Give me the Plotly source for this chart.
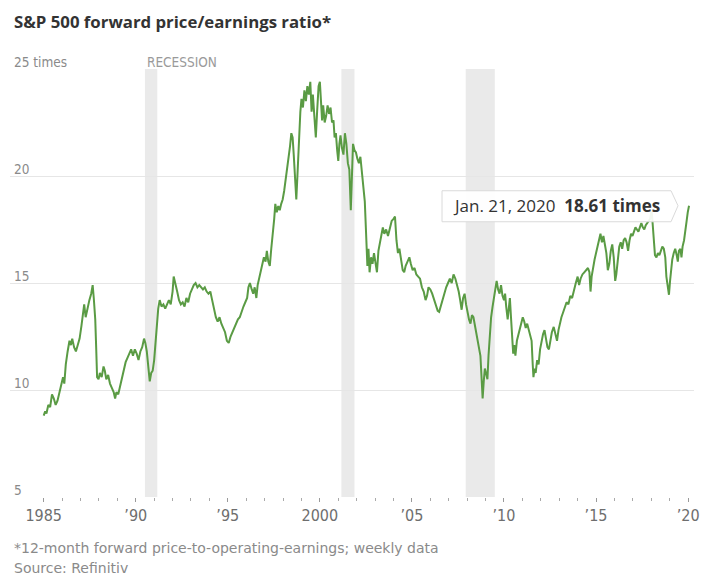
import plotly.graph_objects as go

# Weekly-ish readings of the S&P 500 forward P/E, as (decimal year, ratio)
years = [
    1985.0, 1985.08, 1985.15, 1985.25, 1985.35, 1985.45, 1985.55, 1985.65, 1985.75, 1985.85, 1985.95,
    1986.05, 1986.12, 1986.2, 1986.3, 1986.4, 1986.48, 1986.55, 1986.65, 1986.75, 1986.85, 1986.95,
    1987.05, 1987.12, 1987.2, 1987.28, 1987.38, 1987.48, 1987.58, 1987.66, 1987.72, 1987.8, 1987.85, 1987.9, 1987.98,
    1988.05, 1988.15, 1988.25, 1988.32, 1988.4, 1988.5, 1988.6, 1988.7, 1988.8, 1988.88, 1988.95,
    1989.05, 1989.15, 1989.25, 1989.35, 1989.45, 1989.55, 1989.65, 1989.75, 1989.85, 1989.95,
    1990.05, 1990.15, 1990.25, 1990.35, 1990.45, 1990.52, 1990.6, 1990.68, 1990.76, 1990.84, 1990.92,
    1991.0, 1991.08, 1991.15, 1991.22, 1991.3, 1991.4, 1991.5, 1991.6, 1991.7, 1991.8, 1991.9,
    1992.0, 1992.06, 1992.15, 1992.25, 1992.35, 1992.45, 1992.55, 1992.65, 1992.75, 1992.85, 1992.95,
    1993.05, 1993.15, 1993.25, 1993.35, 1993.45, 1993.55, 1993.65, 1993.75, 1993.85, 1993.95,
    1994.05, 1994.15, 1994.25, 1994.35, 1994.45, 1994.55, 1994.65, 1994.75, 1994.85, 1994.95,
    1995.05, 1995.15, 1995.25, 1995.35, 1995.45, 1995.55, 1995.65, 1995.75, 1995.85, 1995.95,
    1996.05, 1996.12, 1996.2, 1996.3, 1996.38, 1996.46, 1996.55, 1996.62, 1996.72, 1996.8, 1996.88, 1996.96,
    1997.05, 1997.12, 1997.2, 1997.28, 1997.36, 1997.44, 1997.52, 1997.58, 1997.66, 1997.74, 1997.82, 1997.9, 1997.98,
    1998.06, 1998.14, 1998.22, 1998.3, 1998.38, 1998.45, 1998.52, 1998.58, 1998.66, 1998.72, 1998.78, 1998.86, 1998.94,
    1999.0, 1999.08, 1999.16, 1999.24, 1999.32, 1999.4, 1999.48, 1999.55, 1999.62, 1999.7, 1999.78, 1999.85, 1999.93,
    2000.0, 2000.06, 2000.12, 2000.18, 2000.26, 2000.34, 2000.42, 2000.5, 2000.58, 2000.66, 2000.74, 2000.8, 2000.87, 2000.94,
    2001.0, 2001.06, 2001.12, 2001.2, 2001.28, 2001.36, 2001.44, 2001.52, 2001.6, 2001.68, 2001.74, 2001.8, 2001.88, 2001.96,
    2002.04, 2002.12, 2002.2, 2002.28, 2002.36, 2002.44, 2002.52, 2002.58, 2002.64, 2002.7, 2002.78, 2002.86, 2002.94,
    2003.02, 2003.1, 2003.18, 2003.26, 2003.34, 2003.42, 2003.5, 2003.6, 2003.7, 2003.8, 2003.9,
    2004.0, 2004.08, 2004.16, 2004.24, 2004.32, 2004.42, 2004.5, 2004.58, 2004.66, 2004.76, 2004.86, 2004.94,
    2005.04, 2005.14, 2005.24, 2005.34, 2005.44, 2005.54, 2005.64, 2005.74, 2005.82, 2005.9,
    2006.0, 2006.1, 2006.2, 2006.3, 2006.4, 2006.48, 2006.56, 2006.66, 2006.76, 2006.86, 2006.96,
    2007.06, 2007.16, 2007.26, 2007.36, 2007.46, 2007.54, 2007.62, 2007.7, 2007.78, 2007.86, 2007.94,
    2008.02, 2008.1, 2008.18, 2008.26, 2008.34, 2008.42, 2008.5, 2008.58, 2008.66, 2008.72, 2008.78, 2008.84, 2008.9, 2008.96,
    2009.02, 2009.1, 2009.16, 2009.22, 2009.3, 2009.38, 2009.46, 2009.54, 2009.6, 2009.68, 2009.76, 2009.84, 2009.92,
    2010.0, 2010.06, 2010.12, 2010.2, 2010.26, 2010.32, 2010.38, 2010.44, 2010.5, 2010.56, 2010.62, 2010.7, 2010.78, 2010.86, 2010.94,
    2011.02, 2011.1, 2011.18, 2011.26, 2011.34, 2011.42, 2011.5, 2011.56, 2011.6, 2011.66, 2011.72, 2011.8, 2011.88, 2011.96,
    2012.04, 2012.12, 2012.2, 2012.28, 2012.36, 2012.44, 2012.52, 2012.6, 2012.7, 2012.8, 2012.88, 2012.96,
    2013.04, 2013.12, 2013.2, 2013.3, 2013.4, 2013.5, 2013.6, 2013.7, 2013.8, 2013.9,
    2014.0, 2014.08, 2014.16, 2014.26, 2014.36, 2014.46, 2014.56, 2014.64, 2014.7, 2014.76, 2014.84, 2014.92,
    2015.0, 2015.08, 2015.16, 2015.24, 2015.32, 2015.4, 2015.48, 2015.56, 2015.64, 2015.72, 2015.8, 2015.88, 2015.96,
    2016.04, 2016.1, 2016.18, 2016.26, 2016.34, 2016.42, 2016.5, 2016.58, 2016.66, 2016.74, 2016.82, 2016.9, 2016.98,
    2017.06, 2017.14, 2017.22, 2017.3, 2017.38, 2017.46, 2017.54, 2017.62, 2017.7, 2017.78, 2017.86, 2017.94,
    2018.02, 2018.08, 2018.14, 2018.2, 2018.28, 2018.36, 2018.44, 2018.52, 2018.6, 2018.68, 2018.76, 2018.82, 2018.9, 2018.96,
    2019.02, 2019.08, 2019.14, 2019.22, 2019.3, 2019.38, 2019.44, 2019.5, 2019.58, 2019.64, 2019.7, 2019.78, 2019.86, 2019.92, 2019.98,
    2020.05,
]
pe_ratio = [
    8.8, 9.0, 8.9, 9.3, 9.2, 9.8, 9.6, 9.3, 9.5, 9.9, 10.3,
    10.6, 10.3, 11.2, 11.8, 12.3, 12.1, 12.4, 12.0, 11.8, 12.1, 12.4,
    13.0, 13.6, 14.0, 13.4, 13.9, 14.2, 14.5, 14.9, 14.3, 13.3, 12.0, 10.6, 10.5,
    10.8, 10.6, 11.1, 10.9, 10.5, 10.7, 10.3, 10.1, 9.9, 9.6, 9.9,
    9.8, 10.2, 10.6, 10.9, 11.3, 11.5, 11.7, 11.9, 11.6, 11.9,
    11.7, 11.4, 11.8, 12.0, 12.4, 12.2, 11.8, 11.2, 10.4, 10.8, 10.9,
    11.4, 12.4, 13.3, 13.8, 14.2, 13.9, 14.0, 13.8, 14.0, 14.2, 14.0,
    14.6, 15.3, 14.9, 14.6, 14.2, 14.0, 14.1, 13.9, 14.3, 14.1, 14.5,
    14.7, 14.9, 15.0, 14.8, 14.9, 14.8, 14.7, 14.8, 14.6, 14.5,
    14.6, 14.2, 13.7, 13.4, 13.2, 13.4, 13.1, 12.9, 12.7, 12.3,
    12.2, 12.5, 12.7, 12.9, 13.1, 13.3, 13.4, 13.7, 13.9, 14.1,
    14.3, 14.8, 15.0, 14.7, 14.5, 14.8, 14.3, 14.9, 15.3, 15.6, 15.9, 16.2,
    16.0, 16.5, 16.0, 15.8, 16.6, 17.2, 18.0, 18.7, 18.3, 18.6, 18.4, 18.7, 18.9,
    19.3, 19.8, 20.3, 21.0, 21.4, 22.0, 21.8, 21.0, 19.5, 18.9, 20.0, 21.8, 23.0,
    23.6, 23.2, 24.0, 23.5, 24.2, 23.8, 24.4, 23.0, 23.8, 22.8, 21.8, 23.0, 24.2,
    24.4, 23.6, 22.6, 23.3, 22.5, 22.8, 23.3, 22.9, 23.2, 22.5, 22.6, 21.8, 22.0, 21.2,
    20.7, 21.5, 21.9, 21.3, 21.0, 22.0, 21.5, 20.6, 20.3, 18.4, 19.8, 21.5, 21.2, 21.1,
    20.8, 20.6, 20.9, 20.2, 19.7, 18.8, 17.1, 15.8, 16.6, 15.5, 16.2, 15.9, 16.4,
    15.8, 15.5, 16.5, 16.9, 17.2, 17.6, 17.3, 17.5, 17.2, 17.6, 17.9,
    18.0, 18.1, 17.0, 16.4, 16.6, 15.9, 15.6, 15.5, 15.8, 16.0, 16.2, 15.9,
    15.6, 15.7, 15.4, 15.3, 15.2, 14.8, 14.6, 14.2, 14.4, 14.8,
    14.7, 14.5, 14.2, 13.9, 13.7, 13.65, 13.9, 14.2, 14.5, 14.8, 15.0,
    15.2, 15.0, 15.4, 15.2, 14.9, 14.6, 14.2, 13.75, 14.3, 14.5, 14.0,
    13.6, 13.3, 13.1, 13.5, 13.4, 13.0, 12.6, 12.4, 12.0, 11.6, 10.6, 9.6, 10.4, 11.0,
    10.8, 10.5, 11.6, 12.6, 13.4, 13.9, 14.4, 14.8, 15.1, 14.7, 14.5, 14.9, 14.4,
    14.2, 14.5, 13.9, 13.3, 13.8, 14.3, 13.4, 12.5, 11.7, 12.1, 11.6, 12.3, 12.6, 12.8, 13.1,
    13.4, 13.2, 12.9, 13.1, 12.8, 12.6, 12.3, 11.2, 10.6, 11.0, 10.8, 11.4, 11.2, 11.9,
    12.3, 12.6, 12.8, 12.4, 12.0, 11.9, 12.3, 12.7, 12.95, 12.6, 12.3, 12.8,
    13.2, 13.4, 13.6, 13.9, 14.1, 14.0, 14.4, 14.3, 14.7, 15.0,
    15.3, 14.9, 15.2, 15.4, 15.5, 15.6, 15.7, 15.5, 14.6, 15.3, 15.8, 16.1,
    16.4, 16.7, 17.1, 17.3, 16.9, 17.2, 16.8, 16.4, 15.6, 15.9, 16.5, 16.8, 16.2,
    15.1, 15.4, 16.0, 16.7, 16.9, 16.6, 17.0, 17.1, 16.9, 16.5, 17.0, 17.3, 17.2,
    17.4, 17.6, 17.5, 17.4, 17.6, 17.8, 17.6, 17.5, 17.7, 17.8, 17.9, 18.0,
    18.4, 17.6, 16.6, 16.3, 16.2, 16.4, 16.3, 16.5, 16.7, 16.6, 16.2, 15.3, 14.8, 14.45,
    15.1, 15.8, 16.1, 16.4, 16.6, 16.3, 16.0, 16.5, 16.6, 16.2, 16.7, 17.0, 17.4, 17.9, 18.3,
    18.61,
]

# NBER recessions (decimal years)
recession_starts = [1990.5, 2001.17, 2007.92]
recession_ends = [1991.17, 2001.88, 2009.5]

# Axis ticks and labels
y_grid = [5, 10, 15, 20, 25]
y_grid_labels = ["5", "10", "15", "20", "25 times"]
x_major = [1985, 1990, 1995, 2000, 2005, 2010, 2015, 2020]
x_major_labels = ["1985", "\u201990", "\u201995", "2000", "\u201905", "\u201910", "\u201915", "\u201920"]
x_minor = [yr for yr in range(1985, 2021) if yr not in x_major]

last_date_label = "Jan. 21, 2020"

NARROW = "Liberation Sans Narrow, DejaVu Sans Condensed, Roboto, sans-serif"
SANS = "Open Sans, sans-serif"
WIDE = "DejaVu Sans, sans-serif"
LINE_GREEN = "#5a9b44"

fig = go.Figure()

fig.add_trace(go.Scatter(
    x=years, y=pe_ratio, mode="lines",
    line=dict(color=LINE_GREEN, width=2),
    hoverinfo="skip", showlegend=False,
))

# Recession shading
shapes = []
for x0, x1 in zip(recession_starts, recession_ends):
    shapes.append(dict(
        type="rect", xref="x", yref="y", x0=x0, x1=x1, y0=5, y1=25,
        fillcolor="#eaeaea", line=dict(width=0), layer="below",
    ))

# Callout box pointing at the latest reading (pixel offsets from that point)
shapes.append(dict(
    type="path", xref="x", yref="y",
    xsizemode="pixel", ysizemode="pixel",
    xanchor=years[-1], yanchor=pe_ratio[-1],
    path="M -247,15 L -18,15 L -11,0 L -18,-16 L -247,-16 Z",
    fillcolor="rgba(255,255,255,0.92)", line=dict(color="#dadada", width=1),
    layer="above",
))

annotations = []
# Y-axis value labels sit just above their gridlines
for val, lab in zip(y_grid, y_grid_labels):
    annotations.append(dict(
        xref="paper", yref="y", x=0, y=val, xshift=2, yshift=-3,
        xanchor="left", yanchor="bottom", text=lab, showarrow=False,
        font=dict(family=NARROW, size=13.5, color="#8a8a8a"),
    ))

annotations.append(dict(
    xref="x", yref="y", x=recession_starts[0], y=25, yshift=-3,
    xanchor="left", yanchor="bottom", text="RECESSION", showarrow=False,
    font=dict(family=NARROW, size=13.5, color="#9a9a9a"),
))

annotations.append(dict(
    xref="x", yref="y", x=years[-1], y=pe_ratio[-1], xshift=-27,
    xanchor="right", yanchor="middle", showarrow=False,
    text=f"{last_date_label}  <b>{pe_ratio[-1]:.2f} times</b>",
    font=dict(family=SANS, size=17, color="#333333"),
))

annotations.append(dict(
    xref="paper", yref="paper", x=0, y=1, xshift=2, yshift=48,
    xanchor="left", yanchor="middle", showarrow=False,
    text="<b>S&P 500 forward price/earnings ratio*</b>",
    font=dict(family=SANS, size=16.8, color="#333333"),
))
annotations.append(dict(
    xref="paper", yref="paper", x=0, y=0, xshift=2, yshift=-51,
    xanchor="left", yanchor="middle", showarrow=False,
    text="*12-month forward price-to-operating-earnings; weekly data",
    font=dict(family=WIDE, size=14, color="#8a8a8a"),
))
annotations.append(dict(
    xref="paper", yref="paper", x=0, y=0, xshift=2, yshift=-71,
    xanchor="left", yanchor="middle", showarrow=False,
    text="Source: Refinitiv",
    font=dict(family=WIDE, size=14, color="#8a8a8a"),
))

fig.update_layout(
    width=707, height=580,
    margin=dict(l=10, r=7, t=69, b=83),
    paper_bgcolor="white", plot_bgcolor="white",
    shapes=shapes, annotations=annotations,
    xaxis=dict(
        range=[1983.17, 2020.32], showgrid=False, zeroline=False, showline=False,
        tickmode="array", tickvals=x_major, ticktext=x_major_labels,
        ticks="outside", ticklen=4, tickwidth=1, tickcolor="#9a9a9a",
        tickfont=dict(family=NARROW, size=16, color="#6e6e6e"),
        minor=dict(tickmode="array", tickvals=x_minor, ticks="outside",
                   ticklen=3, tickwidth=1, tickcolor="#aaaaaa"),
        fixedrange=True,
    ),
    yaxis=dict(
        range=[5, 25], tickmode="array", tickvals=y_grid,
        showticklabels=False, showgrid=True, gridcolor="#e6e6e6", gridwidth=1,
        zeroline=False, showline=False, fixedrange=True,
    ),
    showlegend=False,
)

fig.write_html("out.html")
